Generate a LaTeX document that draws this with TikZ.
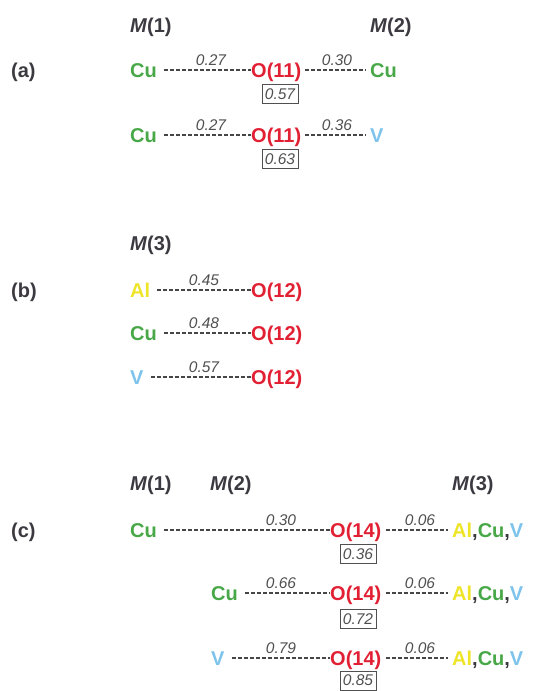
\documentclass[tikz,border=0pt]{standalone}
\usepackage{fontspec}
\setmainfont{Liberation Sans}
\definecolor{cugreen}{RGB}{72,168,72}
\definecolor{ored}{RGB}{226,32,52}
\definecolor{alyellow}{RGB}{238,228,40}
\definecolor{vblue}{RGB}{125,195,235}
\definecolor{lblgray}{RGB}{60,58,64}
\definecolor{numgray}{RGB}{80,80,80}
\definecolor{dashgray}{RGB}{70,70,70}
\newcommand{\Al}{\textcolor{alyellow}{Al}}
\newcommand{\Cu}{\textcolor{cugreen}{Cu}}
\newcommand{\Vv}{\textcolor{vblue}{V}}
\newcommand{\Mix}{\Al,\Cu,\Vv}
\tikzset{
  el/.style={font=\fontsize{20}{21}\selectfont\bfseries, inner sep=0pt, text height=16pt, text depth=2pt, anchor=west},
  lbl/.style={el, text=lblgray},
  mlbl/.style={el, text=lblgray},
  cu/.style={el, text=cugreen},
  ox/.style={el, text=ored},
  al/.style={el, text=alyellow},
  va/.style={el, text=vblue},
  mix/.style={el, text=lblgray},
  num/.style={font=\fontsize{15.5}{16}\selectfont\itshape, text=numgray, inner sep=0pt, anchor=base},
  numbox/.style={draw=numgray, line width=0.9pt, font=\fontsize{15.5}{16}\selectfont\itshape, text=numgray, minimum width=36pt, minimum height=19pt, inner sep=0pt},
  bond/.style={draw=dashgray, line width=1.1pt, dash pattern=on 4pt off 2pt},
}
\begin{document}
\begin{tikzpicture}[x=1pt,y=-1pt]
\useasboundingbox (0,0) rectangle (537,691);
% ---------- (a)
\node[mlbl] (ma1) at (130,25) {\textit{M}(1)};
\node[mlbl] (ma2) at (370,25) {\textit{M}(2)};
\node[lbl] (la) at (11,70) {(a)};
% row a1
\node[cu] (a1l) at (130,70) {Cu};
\node[ox] (a1o) at (251,70) {O(11)};
\node[cu] (a1r) at (370,70) {Cu};
\draw[bond, shorten <=7pt] (a1l.east) -- (a1o.west);
\draw[bond, shorten <=4pt, shorten >=4pt] (a1o.east) -- (a1r.west);
\node[num] (a1n1) at (211,65) {0.27};
\node[num] (a1n2) at (337,65) {0.30};
\node[numbox] (a1b) at (280,94) {0.57};
% row a2
\node[cu] (a2l) at (130,135) {Cu};
\node[ox] (a2o) at (251,135) {O(11)};
\node[va] (a2r) at (370,135) {V};
\draw[bond, shorten <=7pt] (a2l.east) -- (a2o.west);
\draw[bond, shorten <=4pt, shorten >=4pt] (a2o.east) -- (a2r.west);
\node[num] (a2n1) at (211,130) {0.27};
\node[num] (a2n2) at (337,130) {0.36};
\node[numbox] (a2b) at (280,159) {0.63};
% ---------- (b)
\node[mlbl] (mb3) at (130,243) {\textit{M}(3)};
\node[lbl] (lb) at (11,290) {(b)};
\node[al] (b1l) at (130,290) {Al};
\node[ox] (b1o) at (251,290) {O(12)};
\draw[bond, shorten <=7pt] (b1l.east) -- (b1o.west);
\node[num] (b1n) at (204,285) {0.45};
\node[cu] (b2l) at (130,333) {Cu};
\node[ox] (b2o) at (251,333) {O(12)};
\draw[bond, shorten <=7pt] (b2l.east) -- (b2o.west);
\node[num] (b2n) at (204,328) {0.48};
\node[va] (b3l) at (130,377) {V};
\node[ox] (b3o) at (251,377) {O(12)};
\draw[bond, shorten <=7pt] (b3l.east) -- (b3o.west);
\node[num] (b3n) at (204,372) {0.57};
% ---------- (c)
\node[mlbl] (mc1) at (130,483) {\textit{M}(1)};
\node[mlbl] (mc2) at (210,483) {\textit{M}(2)};
\node[mlbl] (mc3) at (452,483) {\textit{M}(3)};
\node[lbl] (lc) at (11,530) {(c)};
% row c1
\node[cu] (c1l) at (130,530) {Cu};
\node[ox] (c1o) at (330,530) {O(14)};
\node[mix] (c1r) at (452,530) {\Mix};
\draw[bond, shorten <=7pt] (c1l.east) -- (c1o.west);
\draw[bond, shorten <=4pt, shorten >=4pt] (c1o.east) -- (c1r.west);
\node[num] (c1n1) at (281,525) {0.30};
\node[num] (c1n2) at (420,525) {0.06};
\node[numbox] (c1b) at (358,554) {0.36};
% row c2
\node[cu] (c2l) at (211,593) {Cu};
\node[ox] (c2o) at (330,593) {O(14)};
\node[mix] (c2r) at (452,593) {\Mix};
\draw[bond, shorten <=7pt] (c2l.east) -- (c2o.west);
\draw[bond, shorten <=4pt, shorten >=4pt] (c2o.east) -- (c2r.west);
\node[num] (c2n1) at (281,588) {0.66};
\node[num] (c2n2) at (420,588) {0.06};
\node[numbox] (c2b) at (358,619) {0.72};
% row c3
\node[va] (c3l) at (211,658) {V};
\node[ox] (c3o) at (330,658) {O(14)};
\node[mix] (c3r) at (452,658) {\Mix};
\draw[bond, shorten <=7pt] (c3l.east) -- (c3o.west);
\draw[bond, shorten <=4pt, shorten >=4pt] (c3o.east) -- (c3r.west);
\node[num] (c3n1) at (281,653) {0.79};
\node[num] (c3n2) at (420,653) {0.06};
\node[numbox] (c3b) at (358,680.5) {0.85};
\end{tikzpicture}
\end{document}
